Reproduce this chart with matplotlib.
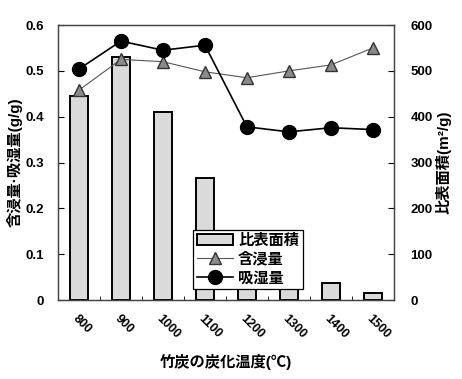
import matplotlib
matplotlib.use("Agg")
import matplotlib.pyplot as plt
import numpy as np

plt.rcParams['font.family'] = ['Liberation Sans', 'Noto Sans CJK JP', 'DejaVu Sans']

temps = ['800', '900', '1000', '1100', '1200', '1300', '1400', '1500']
surface_area = [445, 530, 410, 266, 30, 25, 37, 15]           # 比表面積 (m²/g)
impregnation = [0.458, 0.525, 0.520, 0.498, 0.485, 0.500, 0.513, 0.550]  # 含浸量
absorption = [0.504, 0.565, 0.545, 0.556, 0.378, 0.367, 0.376, 0.372]    # 吸湿量

fig = plt.figure(figsize=(4.62, 3.79), dpi=100)
ax = fig.add_axes([0.1255, 0.208, 0.727, 0.726])
ax2 = ax.twinx()
x = np.arange(len(temps))

# bars on the right-hand scale
bars = ax.bar(x, surface_area, width=0.42, color='#dadada', edgecolor='black',
              linewidth=1.4, zorder=2)
ax.set_ylim(0, 600)
ax.set_yticks(np.arange(0, 601, 100))
ax.set_xlim(-0.5, len(temps) - 0.5)

l1, = ax2.plot(x, impregnation, '-', color='#555555', lw=0.8, marker='^',
               markersize=8, markerfacecolor='#8a8a8a', markeredgecolor='#333333',
               zorder=3)
l2, = ax2.plot(x, absorption, '-', color='black', lw=1.2, marker='o',
               markersize=10, markerfacecolor='black', zorder=4)
ax2.set_ylim(0, 0.6)
ax2.set_yticks(np.arange(0, 0.61, 0.1))
ax2.set_yticklabels(['0', '0.1', '0.2', '0.3', '0.4', '0.5', '0.6'])

# swap sides: bars' scale on the right, lines' scale on the left
ax.yaxis.tick_right()
ax.yaxis.set_label_position('right')
ax2.yaxis.tick_left()
ax2.yaxis.set_label_position('left')

for a in (ax, ax2):
    for s in a.spines.values():
        s.set_color('#444444')
        s.set_linewidth(0.9)

ax.set_xticks(x)
ax.set_xticklabels(temps, rotation=-45, ha='left', va='top', fontsize=9,
                   fontweight='bold', rotation_mode='anchor')
ax.tick_params(axis='x', length=0, pad=9)
ax.set_xticks(np.arange(0.5, len(temps) - 1, 1), minor=True)
ax.tick_params(axis='x', which='minor', direction='in', length=3)
ax.tick_params(axis='y', direction='in', length=4, labelsize=9.5, pad=12,
               left=False, labelleft=False, right=True, labelright=True)
ax2.tick_params(axis='y', direction='in', length=4, labelsize=9.5, pad=10,
                left=True, labelleft=True, right=False, labelright=False)
for lab in ax.get_yticklabels() + ax2.get_yticklabels():
    lab.set_fontweight('bold')

ax2.set_ylabel('含浸量·吸湿量(g/g)', fontsize=11, fontweight='bold', labelpad=2)
ax.set_ylabel('比表面積(m²/g)', fontsize=11, fontweight='bold', rotation=90, labelpad=2)
ax.set_xlabel('竹炭の炭化温度(℃)', fontsize=11, fontweight='bold', labelpad=9)

leg = ax2.legend([bars, l1, l2], ['比表面積', '含浸量', '吸湿量'],
                 loc='lower left', bbox_to_anchor=(0.402, 0.04), fontsize=11,
                 frameon=True, fancybox=False, framealpha=1, edgecolor='black',
                 borderpad=0.25, labelspacing=0.3, handlelength=2.4,
                 handletextpad=0.3, borderaxespad=0)
leg.get_frame().set_linewidth(0.9)
for t in leg.get_texts():
    t.set_fontweight('bold')

fig.savefig('out.png', dpi=100)
